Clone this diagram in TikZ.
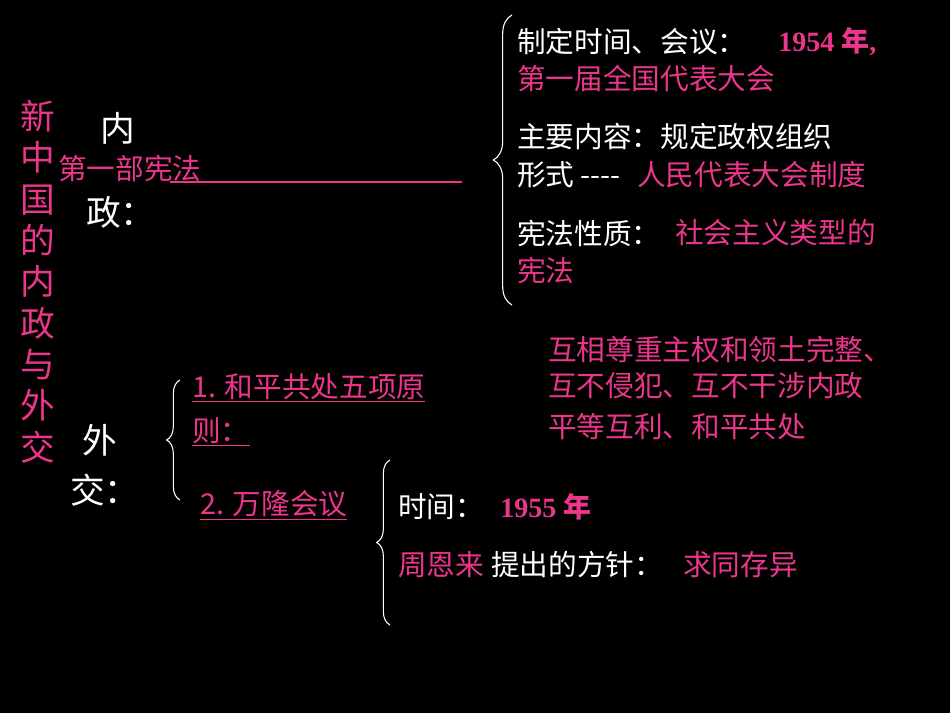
\documentclass[tikz,border=0pt]{standalone}
\usepackage{fontspec}
\setmainfont{Liberation Serif}
\newfontfamily\cjk{Noto Sans CJK SC}
\usetikzlibrary{decorations.pathreplacing}
\definecolor{pk}{RGB}{236,54,140}
\begin{document}
\begin{tikzpicture}[x=0.75pt,y=-0.75pt,
  t/.style={anchor=west,inner sep=0pt,font=\cjk\fontsize{21.5}{26}\selectfont,text=white},
  p/.style={t,text=pk},
  br/.style={draw=white,line width=0.8pt,decorate,decoration={brace,amplitude=14pt}}]
\fill[black] (0,0) rectangle (950,713);
\useasboundingbox (0,0) rectangle (950,713);
% left title
\node[p,anchor=north,align=center,font=\cjk\fontsize{26}{31}\selectfont] (title) at (38,100) {新\\中\\国\\的\\内\\政\\与\\外\\交};
% 内政
\node[t,font=\cjk\fontsize{26}{30}\selectfont] (nei) at (100,128) {内};
\node[t,font=\cjk\fontsize{26}{30}\selectfont] (zheng) at (86,212) {政：};
\node[p] (xf) at (58,168) {第一部宪法};
\coordinate (ul1) at (170,182); \coordinate (ul2) at (462,182);
\draw[pk,line width=0.8pt] (ul1) -- (ul2);
% big brace
\coordinate (b1a) at (512,15); \coordinate (b1b) at (512,305);
\draw[br] (b1b) -- (b1a);
\node[t] (r1) at (517,42) {制定时间、会议：};
\node[p,font=\bfseries\fontsize{21}{26}\selectfont] (r1b) at (778,42) {1954 {\cjk 年}, };
\node[p] (r2) at (517,78) {第一届全国代表大会};
\node[t] (r3) at (517,137) {主要内容：规定政权组织};
\node[t] (r4) at (517,175) {形式 ----};
\node[p] (r4b) at (637,175) {人民代表大会制度};
\node[t] (r5) at (517,233) {宪法性质：};
\node[p] (r5b) at (675,233) {社会主义类型的};
\node[p] (r6) at (517,270) {宪法};
% 外交
\node[t,font=\cjk\fontsize{26}{30}\selectfont] (wai) at (82,440) {外};
\node[t,font=\cjk\fontsize{26}{30}\selectfont] (jiao) at (70,490) {交：};
\coordinate (b2a) at (180,380); \coordinate (b2b) at (180,500);
\draw[br,decoration={brace,amplitude=10pt}] (b2b) -- (b2a);
\node[p] (h1) at (192,388) {\underline{1. 和平共处五项原}};
\node[p] (h2) at (192,432) {\underline{则：}};
\node[p] (w1) at (548,350) {互相尊重主权和领土完整、};
\node[p] (w2) at (548,386) {互不侵犯、互不干涉内政};
\node[p] (w3) at (548,427) {平等互利、和平共处};
\node[p] (h3) at (200,505) {\underline{2. 万隆会议}};
\coordinate (b3a) at (390,460); \coordinate (b3b) at (390,625);
\draw[br,decoration={brace,amplitude=10pt}] (b3b) -- (b3a);
\node[t] (s1) at (398,507) {时间：};
\node[p,font=\bfseries\fontsize{21}{26}\selectfont] (s1b) at (500,507) {1955 {\cjk 年}};
\node[p] (s2) at (398,565) {周恩来};
\node[t] (s2b) at (491,565) {提出的方针：};
\node[p] (s3) at (683,565) {求同存异};
\end{tikzpicture}
\end{document}
